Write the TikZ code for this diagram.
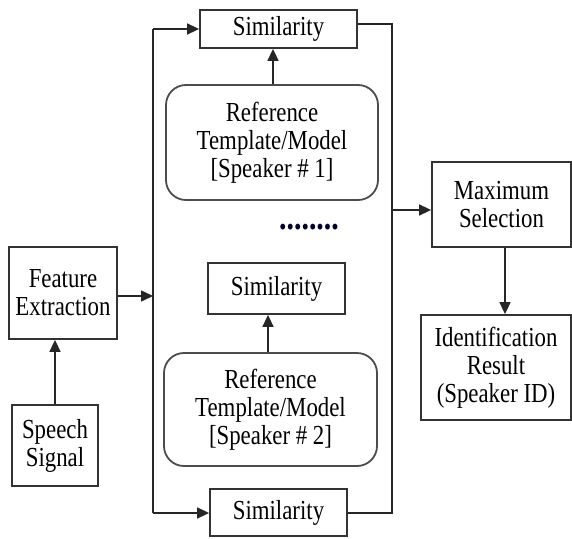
\documentclass[tikz,border=0pt]{standalone}
\usepackage{fontspec}
\setmainfont[FakeStretch=0.83]{Liberation Serif}
\usetikzlibrary{arrows.meta}
\begin{document}
\begin{tikzpicture}[x=1pt,y=-1pt,
  line width=1.6pt,
  box/.style={draw=black!80, line width=1.8pt, inner sep=0pt, align=center, font=\fontsize{27.5}{28}\selectfont},
  rbox/.style={box, draw=black!70, rounded corners=20pt},
  conn/.style={draw=black!85, line width=1.6pt},
  arr/.style={conn, -{Triangle[length=12pt,width=11pt]}}]
\useasboundingbox (0,0) rectangle (572,538);
\node[box, minimum width=108pt, minimum height=92pt] (fe) at (63,293) {Feature\\Extraction};
\node[box, minimum width=86pt, minimum height=81pt] (sp) at (55,445.5) {Speech\\Signal};
\node[box, minimum width=157pt, minimum height=38pt] (s1) at (278.5,29) {Similarity};
\node[rbox, minimum width=212pt, minimum height=115pt] (r1) at (272,142.5) {Reference\\Template/Model\\{[Speaker \# 1]}};
\node[anchor=base, inner sep=0pt, font=\fontsize{36}{36}\bfseries\selectfont, text=black!85!blue] (dots) at (309,229) {........};
\node[box, minimum width=137pt, minimum height=51pt] (s2) at (276.5,288.5) {Similarity};
\node[rbox, minimum width=213pt, minimum height=113pt] (r2) at (270.5,409.5) {Reference\\Template/Model\\{[Speaker \# 2]}};
\node[box, minimum width=137pt, minimum height=47pt] (s3) at (278.5,512.5) {Similarity};
\node[box, minimum width=139pt, minimum height=85pt] (mx) at (501.5,204.5) {Maximum\\Selection};
\node[box, minimum width=150pt, minimum height=105pt] (id) at (496,367.5) {Identification\\Result\\(Speaker ID)};
\coordinate (lt) at (153,29);
\coordinate (lb) at (153,513);
\coordinate (lm) at (153,296);
\coordinate (rt) at (392,24);
\coordinate (rb) at (392,513);
\coordinate (rm) at (392,210);
\draw[arr] (sp.north) -- (fe.south -| sp.north);
\draw[arr] (fe.east |- lm) -- (lm);
\draw[conn] (lt) -- (lb);
\draw[arr] (lt) -- (s1.west |- lt);
\draw[arr] (lb) -- (s3.west |- lb);
\draw[arr] (r1.north -| 273,0) -- (s1.south -| 273,0);
\draw[arr] (r2.north -| 268,0) -- (s2.south -| 268,0);
\draw[conn] (s1.east |- rt) -- (rt) -- (rb) -- (s3.east |- rb);
\draw[arr] (rm) -- (mx.west |- rm);
\draw[arr] (mx.south -| 505,0) -- (id.north -| 505,0);
\end{tikzpicture}
\end{document}
